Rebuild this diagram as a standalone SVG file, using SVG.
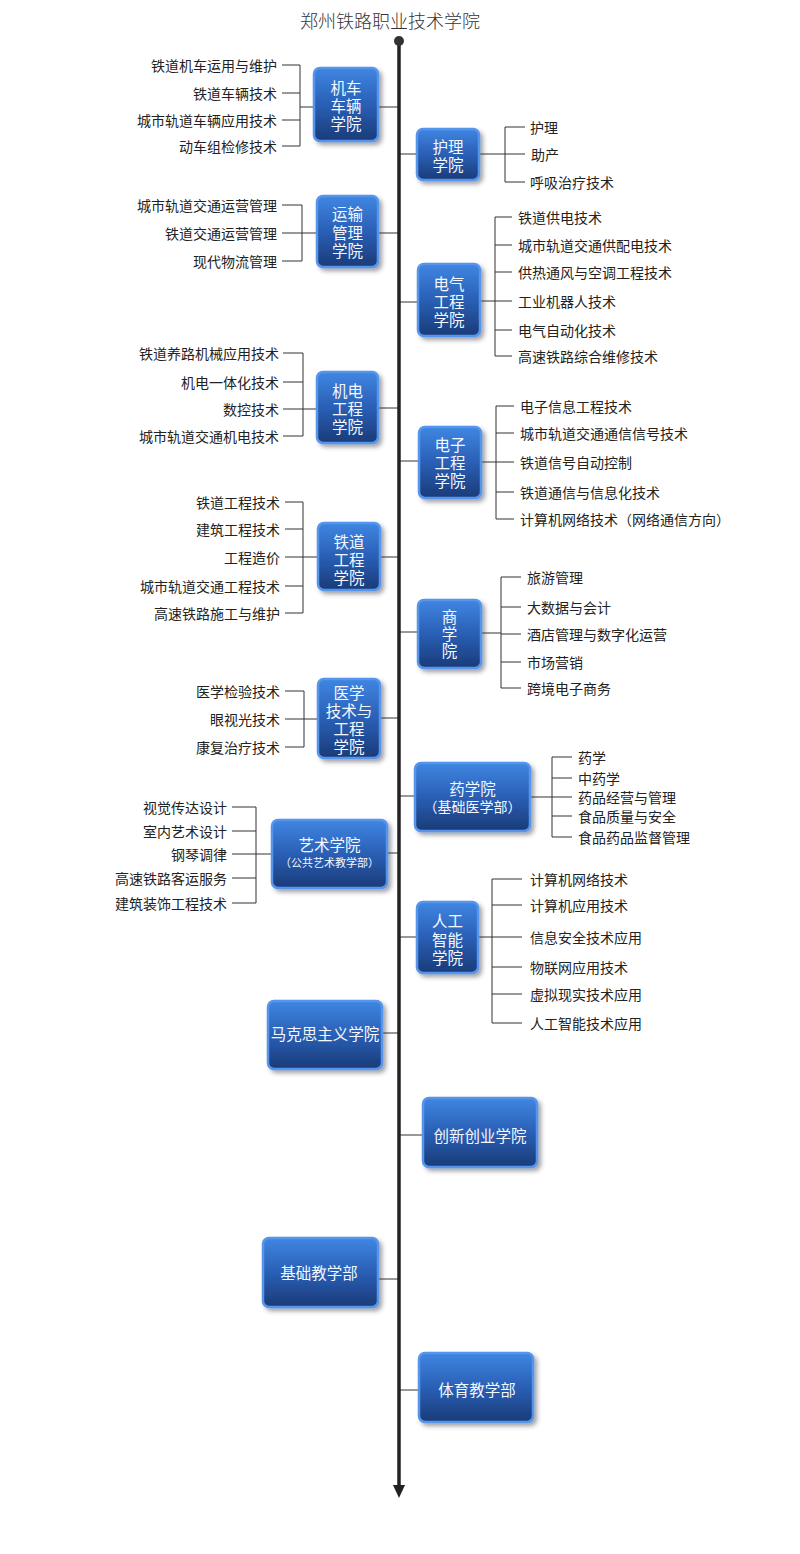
<svg xmlns="http://www.w3.org/2000/svg" width="800" height="1554" viewBox="0 0 800 1554">
<defs>
<linearGradient id="g" x1="0" y1="0" x2="0" y2="1">
<stop offset="0" stop-color="#3f86e2"/>
<stop offset="0.5" stop-color="#2a5fb5"/>
<stop offset="1" stop-color="#1a3b78"/>
</linearGradient>
<filter id="sh" x="-20%" y="-20%" width="150%" height="150%">
<feDropShadow dx="3" dy="3" stdDeviation="2" flood-color="#334" flood-opacity="0.45"/>
</filter>
<style>
text{font-family:"Noto Sans CJK SC","Noto Sans",sans-serif;dominant-baseline:central}
.it{font-size:14px;fill:#222}
.r{text-anchor:end}
.nt{font-size:15.5px;fill:#f4f8ff;text-anchor:middle}
.sub{font-size:11px}
.sub2{font-size:14px}
.box{fill:url(#g);stroke:#5596ec;stroke-width:2.5;filter:url(#sh)}
.ln{stroke:#333;stroke-width:1;fill:none}
</style>
</defs>
<rect width="800" height="1554" fill="#fff"/>
<text x="390" y="20" style="font-size:18px;fill:#333;text-anchor:middle;font-weight:300">郑州铁路职业技术学院</text>

<g id="connectors">
<path class="ln" d="M378,107H399M300,65V146M282,65H300M282,93H300M282,120H300M282,146H300M300,107H314"/>
<path class="ln" d="M399,154H417M479,154H505M505,127V182M505,127H525M505,154H525M505,182H525"/>
<path class="ln" d="M378,233H399M302,205V261M282,205H302M282,233H302M282,261H302M302,233H317"/>
<path class="ln" d="M399,302H418M480,301H495M495,217V356M495,217H512M495,245H512M495,272H512M495,301H512M495,330H512M495,356H512"/>
<path class="ln" d="M378,408H399M303,353V436M283,353H303M283,382H303M283,409H303M283,436H303M303,409H317"/>
<path class="ln" d="M399,461H419M481,462H496M496,406V519M496,406H514M496,433H514M496,462H514M496,492H514M496,519H514"/>
<path class="ln" d="M399,632H418M481,633H501M501,577V688M501,577H521M501,607H521M501,634H521M501,662H521M501,688H521"/>
<path class="ln" d="M380,557H399M303,502V613M285,502H303M285,529H303M285,557H303M285,586H303M285,613H303M303,557H318"/>
<path class="ln" d="M380,718H399M304,691V747M285,691H304M285,719H304M285,747H304M304,719H318"/>
<path class="ln" d="M387,853H399M256,807V903M232,807H256M232,831H256M232,854H256M232,878H256M232,903H256M256,854H272"/>
<path class="ln" d="M399,796H415M530,797H552M552,757V837M552,757H572M552,778H572M552,797H572M552,816H572M552,837H572"/>
<path class="ln" d="M399,937H417M478,937H492M492,879V1023M492,879H522M492,905H522M492,937H522M492,967H522M492,994H522M492,1023H522"/>
<path class="ln" d="M382,1033H399M399,1135H423M378,1279H399M399,1390H419"/>
<path d="M399,41V1487" stroke="#222" stroke-width="3.5" fill="none"/>
<circle cx="399" cy="41" r="5" fill="#333"/>
<polygon points="393,1485 405,1485 399,1498" fill="#222"/>
</g>

<g id="n1">
<rect class="box" x="314" y="68" width="64" height="73" rx="6"/>
<text class="nt"><tspan x="346" y="87">机车</tspan><tspan x="346" y="105">车辆</tspan><tspan x="346" y="123">学院</tspan></text>
<text class="it r" x="277" y="65">铁道机车运用与维护</text>
<text class="it r" x="277" y="93">铁道车辆技术</text>
<text class="it r" x="277" y="120">城市轨道车辆应用技术</text>
<text class="it r" x="277" y="146">动车组检修技术</text>
</g>

<g id="n2">
<rect class="box" x="417" y="129" width="62" height="51" rx="6"/>
<text class="nt"><tspan x="448" y="146">护理</tspan><tspan x="448" y="164">学院</tspan></text>
<text class="it" x="530" y="127">护理</text>
<text class="it" x="531" y="154">助产</text>
<text class="it" x="530" y="182">呼吸治疗技术</text>
</g>

<g id="n3">
<rect class="box" x="317" y="196" width="61" height="71" rx="6"/>
<text class="nt"><tspan x="347.5" y="213">运输</tspan><tspan x="347.5" y="232">管理</tspan><tspan x="347.5" y="250">学院</tspan></text>
<text class="it r" x="277" y="205">城市轨道交通运营管理</text>
<text class="it r" x="277" y="233">铁道交通运营管理</text>
<text class="it r" x="277" y="261">现代物流管理</text>
</g>

<g id="n4">
<rect class="box" x="418" y="264" width="62" height="72" rx="6"/>
<text class="nt"><tspan x="449" y="283">电气</tspan><tspan x="449" y="301">工程</tspan><tspan x="449" y="319">学院</tspan></text>
<text class="it" x="518" y="217">铁道供电技术</text>
<text class="it" x="518" y="245">城市轨道交通供配电技术</text>
<text class="it" x="518" y="272">供热通风与空调工程技术</text>
<text class="it" x="518" y="301">工业机器人技术</text>
<text class="it" x="518" y="330">电气自动化技术</text>
<text class="it" x="518" y="356">高速铁路综合维修技术</text>
</g>

<g id="n5">
<rect class="box" x="317" y="372" width="61" height="71" rx="6"/>
<text class="nt"><tspan x="347.5" y="390">机电</tspan><tspan x="347.5" y="408">工程</tspan><tspan x="347.5" y="426">学院</tspan></text>
<text class="it r" x="279" y="353">铁道养路机械应用技术</text>
<text class="it r" x="279" y="382">机电一体化技术</text>
<text class="it r" x="279" y="409">数控技术</text>
<text class="it r" x="279" y="436">城市轨道交通机电技术</text>
</g>

<g id="n6">
<rect class="box" x="419" y="427" width="62" height="71" rx="6"/>
<text class="nt"><tspan x="450" y="444">电子</tspan><tspan x="450" y="462">工程</tspan><tspan x="450" y="480">学院</tspan></text>
<text class="it" x="520" y="406">电子信息工程技术</text>
<text class="it" x="520" y="433">城市轨道交通通信信号技术</text>
<text class="it" x="520" y="462">铁道信号自动控制</text>
<text class="it" x="520" y="492">铁道通信与信息化技术</text>
<text class="it" x="520" y="519">计算机网络技术（网络通信方向）</text>
</g>

<g id="n7">
<rect class="box" x="418" y="600" width="63" height="68" rx="6"/>
<text class="nt"><tspan x="449.5" y="616">商</tspan><tspan x="449.5" y="633">学</tspan><tspan x="449.5" y="650">院</tspan></text>
<text class="it" x="527" y="577">旅游管理</text>
<text class="it" x="527" y="607">大数据与会计</text>
<text class="it" x="527" y="634">酒店管理与数字化运营</text>
<text class="it" x="527" y="662">市场营销</text>
<text class="it" x="527" y="688">跨境电子商务</text>
</g>

<g id="n8">
<rect class="box" x="318" y="523" width="62" height="67" rx="6"/>
<text class="nt"><tspan x="349" y="541">铁道</tspan><tspan x="349" y="559">工程</tspan><tspan x="349" y="577">学院</tspan></text>
<text class="it r" x="280" y="502">铁道工程技术</text>
<text class="it r" x="280" y="529">建筑工程技术</text>
<text class="it r" x="280" y="557">工程造价</text>
<text class="it r" x="280" y="586">城市轨道交通工程技术</text>
<text class="it r" x="280" y="613">高速铁路施工与维护</text>
</g>

<g id="n9">
<rect class="box" x="318" y="679" width="62" height="79" rx="6"/>
<text class="nt"><tspan x="349" y="692">医学</tspan><tspan x="349" y="710">技术与</tspan><tspan x="349" y="728">工程</tspan><tspan x="349" y="746">学院</tspan></text>
<text class="it r" x="280" y="691">医学检验技术</text>
<text class="it r" x="280" y="719">眼视光技术</text>
<text class="it r" x="280" y="747">康复治疗技术</text>
</g>

<g id="n10">
<rect class="box" x="272" y="820" width="115" height="68" rx="6"/>
<text class="nt"><tspan x="329.5" y="844">艺术学院</tspan><tspan class="sub" x="329.5" y="862">（公共艺术教学部）</tspan></text>
<text class="it r" x="227" y="807">视觉传达设计</text>
<text class="it r" x="227" y="831">室内艺术设计</text>
<text class="it r" x="227" y="854">钢琴调律</text>
<text class="it r" x="227" y="878">高速铁路客运服务</text>
<text class="it r" x="227" y="903">建筑装饰工程技术</text>
</g>

<g id="n11">
<rect class="box" x="415" y="763" width="115" height="68" rx="6"/>
<text class="nt"><tspan x="472.5" y="788">药学院</tspan><tspan class="sub2" x="472.5" y="806">（基础医学部）</tspan></text>
<text class="it" x="578" y="757">药学</text>
<text class="it" x="578" y="778">中药学</text>
<text class="it" x="578" y="797">药品经营与管理</text>
<text class="it" x="578" y="816">食品质量与安全</text>
<text class="it" x="578" y="837">食品药品监督管理</text>
</g>

<g id="n12">
<rect class="box" x="417" y="902" width="61" height="71" rx="6"/>
<text class="nt"><tspan x="447.5" y="920">人工</tspan><tspan x="447.5" y="939">智能</tspan><tspan x="447.5" y="957">学院</tspan></text>
<text class="it" x="530" y="879">计算机网络技术</text>
<text class="it" x="530" y="905">计算机应用技术</text>
<text class="it" x="530" y="937">信息安全技术应用</text>
<text class="it" x="530" y="967">物联网应用技术</text>
<text class="it" x="530" y="994">虚拟现实技术应用</text>
<text class="it" x="530" y="1023">人工智能技术应用</text>
</g>

<g id="n13">
<rect class="box" x="268" y="1001" width="114" height="68" rx="6"/>
<text class="nt" x="325" y="1033">马克思主义学院</text>
</g>

<g id="n14">
<rect class="box" x="423" y="1098" width="114" height="69" rx="6"/>
<text class="nt" x="480" y="1135">创新创业学院</text>
</g>

<g id="n15">
<rect class="box" x="263" y="1238" width="115" height="69" rx="6"/>
<text class="nt" x="319" y="1272">基础教学部</text>
</g>

<g id="n16">
<rect class="box" x="419" y="1353" width="114" height="69" rx="6"/>
<text class="nt" x="477" y="1389">体育教学部</text>
</g>
</svg>
